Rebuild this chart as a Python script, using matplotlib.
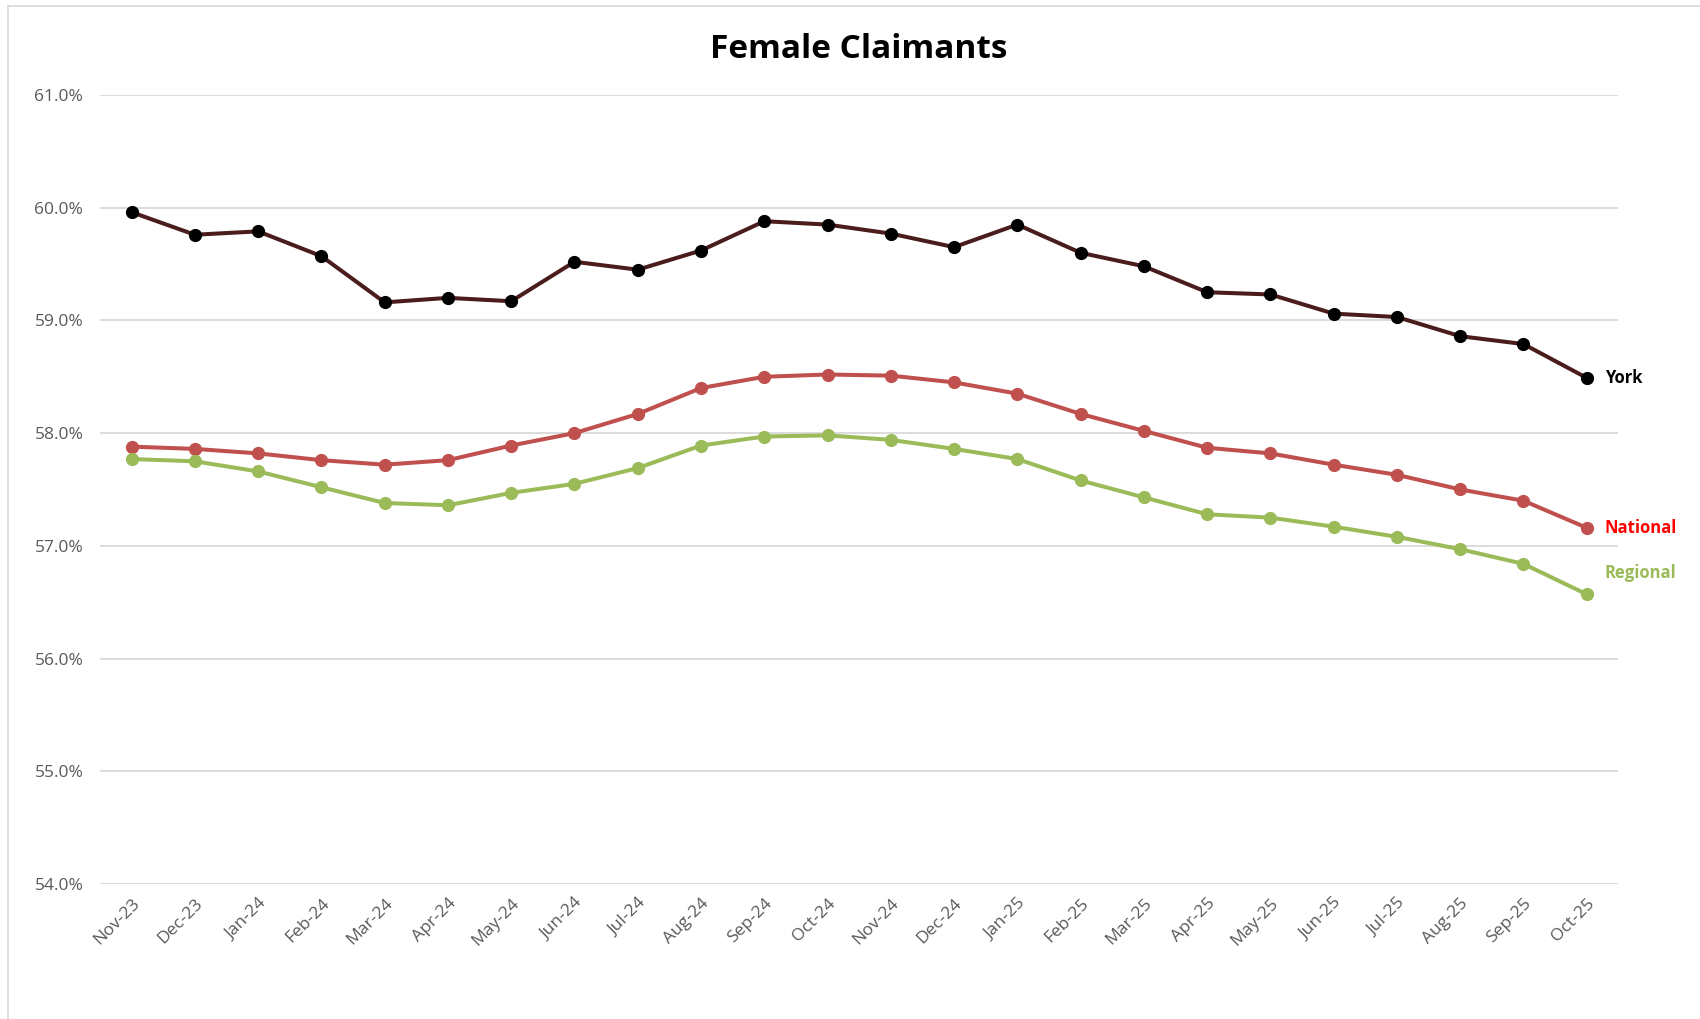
import matplotlib.pyplot as plt
from matplotlib.lines import Line2D
from matplotlib.ticker import FuncFormatter

months = ['Nov-23', 'Dec-23', 'Jan-24', 'Feb-24', 'Mar-24', 'Apr-24', 'May-24', 'Jun-24',
          'Jul-24', 'Aug-24', 'Sep-24', 'Oct-24', 'Nov-24', 'Dec-24', 'Jan-25', 'Feb-25',
          'Mar-25', 'Apr-25', 'May-25', 'Jun-25', 'Jul-25', 'Aug-25', 'Sep-25', 'Oct-25']

york = [59.96, 59.76, 59.79, 59.57, 59.16, 59.20, 59.17, 59.52, 59.45, 59.62, 59.88, 59.85,
        59.77, 59.65, 59.85, 59.60, 59.48, 59.25, 59.23, 59.06, 59.03, 58.86, 58.79, 58.49]
national = [57.88, 57.86, 57.82, 57.76, 57.72, 57.76, 57.89, 58.00, 58.17, 58.40, 58.50, 58.52,
            58.51, 58.45, 58.35, 58.17, 58.02, 57.87, 57.82, 57.72, 57.63, 57.50, 57.40, 57.16]
regional = [57.77, 57.75, 57.66, 57.52, 57.38, 57.36, 57.47, 57.55, 57.69, 57.89, 57.97, 57.98,
            57.94, 57.86, 57.77, 57.58, 57.43, 57.28, 57.25, 57.17, 57.08, 56.97, 56.84, 56.57]

plt.rcParams['font.family'] = ['Open Sans', 'DejaVu Sans']

fig = plt.figure(figsize=(17, 10.19), dpi=100)
ax = fig.add_axes([0.0588, 0.1325, 0.8932, 0.7743])

x = list(range(len(months)))
ax.plot(x, york, color='#4a1c1c', lw=2.9, marker='o', ms=8.5, mfc='black', mec='black', zorder=4)
ax.plot(x, national, color='#c0504d', lw=2.9, marker='o', ms=8.5, zorder=3)
ax.plot(x, regional, color='#9bbb59', lw=2.9, marker='o', ms=8.5, zorder=3)

ax.annotate('York', (x[-1], york[-1]), xytext=(13, 0), textcoords='offset points',
            va='center', ha='left', fontsize=12, fontweight='bold', color='black')
ax.annotate('National', (x[-1], national[-1]), xytext=(13, 0), textcoords='offset points',
            va='center', ha='left', fontsize=12, fontweight='bold', color='#ff0000')
ax.annotate('Regional', (x[-1], regional[-1]), xytext=(13, 15), textcoords='offset points',
            va='center', ha='left', fontsize=12, fontweight='bold', color='#9bbb59')

ax.set_xlim(-0.5, len(months) - 0.5)
ax.set_ylim(54, 61)
ax.set_yticks([54, 55, 56, 57, 58, 59, 60, 61])
ax.yaxis.set_major_formatter(FuncFormatter(lambda v, p: f'{v:.1f}%'))
ax.set_xticks(x)
ax.set_xticklabels(months, rotation=45, ha='right', rotation_mode='anchor')
ax.tick_params(length=0, labelsize=12.5, labelcolor='#595959')
ax.tick_params(axis='x', pad=8)
ax.tick_params(axis='y', pad=12)
ax.grid(axis='y', color='#d9d9d9', lw=1.3)
ax.set_axisbelow(True)
for s in ax.spines.values():
    s.set_visible(False)

fig.text(0.505, 0.951, 'Female Claimants', ha='center', va='center',
         fontsize=24, fontweight='bold', color='black')

# chart area border
fig.add_artist(Line2D([0.0045, 0.0045], [0, 0.994], color='#d9d9d9', lw=1.2, transform=fig.transFigure))
fig.add_artist(Line2D([0.0045, 1], [0.994, 0.994], color='#d9d9d9', lw=1.2, transform=fig.transFigure))

fig.savefig('out.png', dpi=100)
